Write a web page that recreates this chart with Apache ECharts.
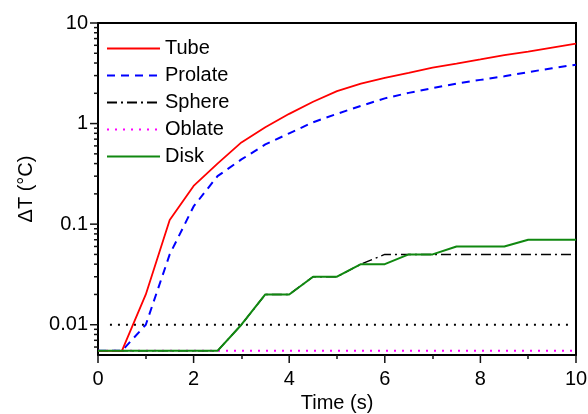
<!DOCTYPE html>
<html>
<head>
<meta charset="utf-8">
<script src="https://cdn.jsdelivr.net/npm/echarts@6/dist/echarts.min.js"></script>
<style>html,body{margin:0;padding:0;background:#fff}#c{width:588px;height:414px}</style>
</head>
<body>
<div id="c"></div>
<script>
// ---- data ----
var times   = [0,0.5,1,1.5,2,2.5,3,3.5,4,4.5,5,5.5,6,6.5,7,7.5,8,8.5,9,9.5,10];
var tube    = [0.0055,0.0055,0.02,0.11,0.24,0.4,0.65,0.92,1.25,1.65,2.1,2.5,2.85,3.2,3.6,3.95,4.35,4.8,5.2,5.7,6.25];
var prolate = [0.0055,0.0055,0.01,0.05,0.15,0.3,0.44,0.62,0.8,1.03,1.25,1.5,1.78,2.02,2.25,2.5,2.72,2.95,3.25,3.55,3.85];
var sphere  = [0.0055,0.0055,0.0055,0.0055,0.0055,0.0055,0.01,0.02,0.02,0.03,0.03,0.04,0.05,0.05,0.05,0.05,0.05,0.05,0.05,0.05,0.05];
var oblate  = [0.0055,0.0055,0.0055,0.0055,0.0055,0.0055,0.0055,0.0055,0.0055,0.0055,0.0055,0.0055,0.0055,0.0055,0.0055,0.0055,0.0055,0.0055,0.0055,0.0055,0.0055];
var disk    = [0.0055,0.0055,0.0055,0.0055,0.0055,0.0055,0.01,0.02,0.02,0.03,0.03,0.04,0.04,0.05,0.05,0.06,0.06,0.06,0.07,0.07,0.07];
var refX    = [0.25, 9.9];
var refY    = [0.01, 0.01];
var xMajorTicks = [0, 2, 4, 6, 8, 10];
var xMinorTicks = [1, 3, 5, 7, 9];
var yMajorTicks = [0.01, 0.1, 1, 10];
var yMinorTicks = [0.006,0.007,0.008,0.009,0.02,0.03,0.04,0.05,0.06,0.07,0.08,0.09,0.2,0.3,0.4,0.5,0.6,0.7,0.8,0.9,2,3,4,5,6,7,8,9];
var xMin = 0, xMax = 10, yMin = 0.005, yMax = 10;

function pairs(xs, ys){ return xs.map(function(x,i){ return [x, ys[i]]; }); }
var FONT = "'Liberation Sans', Arial, sans-serif";
var TICK = '#111';

// tick marks as small rect symbols placed through the axes' scales, offset outward
function tickMarks(data, len, vertical){
  return {
    type:'scatter', data:data, silent:true, clip:false, z:20, animation:false,
    symbol:'rect',
    symbolSize: vertical ? [1.5, len] : [len, 1.5],
    symbolOffset: vertical ? [0, len/2] : [-len/2, 0],
    itemStyle:{color:TICK, opacity:1},
    emphasis:{disabled:true}
  };
}

var chart = echarts.init(document.getElementById('c'), null, {renderer:'canvas'});
chart.setOption({
  animation:false,
  backgroundColor:'#fff',
  grid:{left:98, right:12, top:23, bottom:59, outerBoundsMode:'none', containLabel:false,
    show:true, borderColor:'#000', borderWidth:2, backgroundColor:'transparent'},
  legend:{
    data:['Tube','Prolate','Sphere','Oblate','Disk'],
    orient:'vertical', left:106, top:35, padding:0, itemWidth:53, itemHeight:14, itemGap:0,
    itemStyle:{opacity:0},
    textStyle:{fontFamily:FONT, fontSize:20, color:'#000', lineHeight:27}
  },
  xAxis:{
    type:'value', min:xMin, max:xMax, interval:2, position:'bottom',
    name:'Time (s)', nameLocation:'middle', nameGap:34,
    nameTextStyle:{fontFamily:FONT, fontSize:20, color:'#000'},
    axisLine:{show:true, onZero:false, lineStyle:{color:'#000', width:2}},
    axisTick:{show:false},
    minorTick:{show:true, splitNumber:2, length:4, lineStyle:{color:TICK, width:1.5}},
    axisLabel:{fontFamily:FONT, fontSize:20, color:'#000', margin:14},
    splitLine:{show:false}, minorSplitLine:{show:false}
  },
  yAxis:{
    type:'log', logBase:10, min:yMin, max:yMax, position:'left',
    name:'\u0394T (\u00B0C)', nameLocation:'middle', nameGap:62, nameRotate:90,
    nameTextStyle:{fontFamily:FONT, fontSize:20, color:'#000'},
    axisLine:{show:true, onZero:false, lineStyle:{color:'#000', width:2}},
    axisTick:{show:false},
    axisLabel:{fontFamily:FONT, fontSize:20, color:'#000', margin:10, showMinLabel:false,
      formatter:function(v){
        for (var i=0;i<yMajorTicks.length;i++){ if (Math.abs(v-yMajorTicks[i]) < yMajorTicks[i]*1e-6) return String(yMajorTicks[i]); }
        return '';
      }},
    splitLine:{show:false}
  },
  series:[
    {name:'ref', type:'line', data:pairs(refX, refY), symbol:'none', silent:true,
      lineStyle:{color:'#000', width:2, type:[2,6]}},
    {name:'Oblate', type:'line', data:pairs(times, oblate), symbol:'none',
      lineStyle:{color:'#ff00ff', width:2, type:[2,6]}, itemStyle:{color:'#ff00ff'}},
    {name:'Sphere', type:'line', data:pairs(times, sphere), symbol:'none',
      lineStyle:{color:'#000', width:1.5, type:[10,4,2,4]}, itemStyle:{color:'#000'}},
    {name:'Prolate', type:'line', data:pairs(times, prolate), symbol:'none',
      lineStyle:{color:'#0000ff', width:2, type:[8,6]}, itemStyle:{color:'#0000ff'}},
    {name:'Tube', type:'line', data:pairs(times, tube), symbol:'none',
      lineStyle:{color:'#ff0000', width:1.8, type:'solid'}, itemStyle:{color:'#ff0000'}},
    {name:'Disk', type:'line', data:pairs(times, disk), symbol:'none',
      lineStyle:{color:'#108810', width:2, type:'solid'}, itemStyle:{color:'#108810'}},
    tickMarks(xMajorTicks.map(function(v){ return [v, yMin]; }), 8, true),
    tickMarks(yMajorTicks.map(function(v){ return [xMin, v]; }), 8, false),
    tickMarks(yMinorTicks.map(function(v){ return [xMin, v]; }), 4, false)
  ]
});
</script>
</body>
</html>
